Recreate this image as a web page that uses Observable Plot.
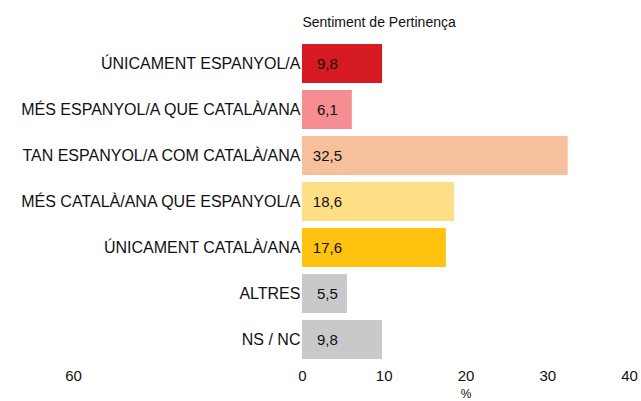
<!DOCTYPE html>
<html>
<head>
<meta charset="utf-8">
<script src="https://cdn.jsdelivr.net/npm/d3@7"></script>
<script src="https://cdn.jsdelivr.net/npm/@observablehq/plot@0.6"></script>
<style>
  body { margin: 0; background: #fff; }
  #chart svg { display: block; }
</style>
</head>
<body>
<div id="chart"></div>
<script>
const title = "Sentiment de Pertinença";
const categories = [
  "ÚNICAMENT ESPANYOL/A",
  "MÉS ESPANYOL/A QUE CATALÀ/ANA",
  "TAN ESPANYOL/A COM CATALÀ/ANA",
  "MÉS CATALÀ/ANA QUE ESPANYOL/A",
  "ÚNICAMENT CATALÀ/ANA",
  "ALTRES",
  "NS / NC"
];
const values = [9.8, 6.1, 32.5, 18.6, 17.6, 5.5, 9.8];
const colors = ["#D61A22", "#F58D92", "#F5C09B", "#FFDF85", "#FFC20E", "#C9C9C9", "#C9C9C9"];
const tickValues = [-28, 0, 10, 20, 30, 40];
const tickLabels = ["60", "0", "10", "20", "30", "40"];
const axisLabel = "%";
const axisLabelAt = 20;

const data = categories.map((c, i) => ({cat: c, value: values[i], color: colors[i]}));
const fmt = v => v.toFixed(1).replace(".", ",");

const chart = Plot.plot({
  width: 641,
  height: 401,
  marginTop: 36,
  marginBottom: 34,
  marginLeft: 73,
  marginRight: 12,
  style: {fontFamily: "'Liberation Sans', Arial, sans-serif", fontSize: "15px", color: "#111"},
  x: {domain: [-28, 40], axis: null},
  y: {domain: categories, axis: null, padding: 0.15},
  marks: [
    Plot.barX(data, {x: "value", y: "cat", fill: "color"}),
    Plot.text(data, {x: 0, y: "cat", text: "cat", textAnchor: "end", dx: -2, fill: "#111", fontSize: 16}),
    Plot.text(data, {x: 0, y: "cat", text: d => fmt(d.value), textAnchor: "middle", dx: 25, fill: "#111", fontSize: 15}),
    Plot.axisX({ticks: tickValues, tickFormat: (d, i) => tickLabels[tickValues.indexOf(d)], tickSize: 0, tickPadding: 3, fontSize: 15, label: null}),
    Plot.text([axisLabel], {x: [axisLabelAt], frameAnchor: "bottom", dy: 30, text: d => d, fontSize: 12, fill: "#111"}),
    Plot.text([title], {x: [0], frameAnchor: "top", dy: -19, textAnchor: "start", text: d => d, fontSize: 14, fill: "#111"})
  ]
});
document.getElementById("chart").appendChild(chart);
</script>
</body>
</html>
